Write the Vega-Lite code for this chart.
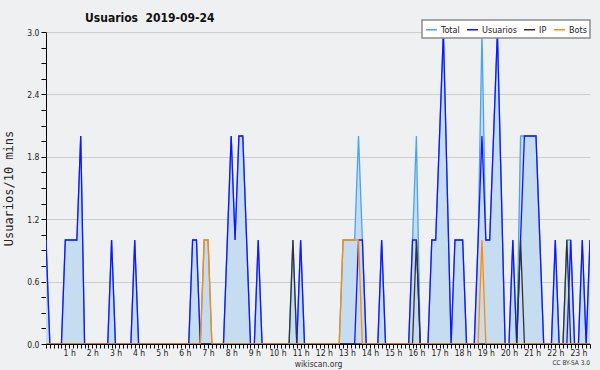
{
  "$schema": "https://vega.github.io/schema/vega-lite/v6.json",
  "width": 544,
  "height": 312,
  "autosize": {"type": "none"},
  "padding": {"left": 46, "top": 32, "right": 10, "bottom": 26},
  "background": "#eff0f1",
  "config": {
    "font": "DejaVu Sans Condensed, DejaVu Sans",
    "view": {"stroke": null, "fill": "#eff0f1"},
    "legend": {
      "orient": "none",
      "legendX": 376,
      "legendY": -12,
      "direction": "horizontal",
      "symbolType": "stroke",
      "symbolSize": 121,
      "symbolStrokeWidth": 1.5,
      "labelFont": "DejaVu Sans Condensed, DejaVu Sans",
      "labelFontSize": 9,
      "labelColor": "#222",
      "labelOffset": 3,
      "columnPadding": 4,
      "padding": 3,
      "fillColor": "white",
      "strokeColor": "#8c8c8c",
      "strokeWidth": 1.5
    }
  },
  "title": {
    "text": "Usuarios\u00a0 2019-09-24",
    "anchor": "start",
    "frame": "group",
    "dx": 39,
    "dy": 24,
    "offset": 9,
    "baseline": "alphabetic",
    "font": "DejaVu Sans Condensed, DejaVu Sans",
    "fontSize": 12,
    "fontWeight": "bold",
    "color": "#111"
  },
  "data": {
    "values": [
      {"m":0,"Total":1,"Usuarios":1,"IP":0,"Bots":0},
      {"m":10,"Total":0,"Usuarios":0,"IP":0,"Bots":0},
      {"m":20,"Total":0,"Usuarios":0,"IP":0,"Bots":0},
      {"m":30,"Total":0,"Usuarios":0,"IP":0,"Bots":0},
      {"m":40,"Total":0,"Usuarios":0,"IP":0,"Bots":0},
      {"m":50,"Total":1,"Usuarios":1,"IP":0,"Bots":0},
      {"m":60,"Total":1,"Usuarios":1,"IP":0,"Bots":0},
      {"m":70,"Total":1,"Usuarios":1,"IP":0,"Bots":0},
      {"m":80,"Total":1,"Usuarios":1,"IP":0,"Bots":0},
      {"m":90,"Total":2,"Usuarios":2,"IP":0,"Bots":0},
      {"m":100,"Total":0,"Usuarios":0,"IP":0,"Bots":0},
      {"m":110,"Total":0,"Usuarios":0,"IP":0,"Bots":0},
      {"m":120,"Total":0,"Usuarios":0,"IP":0,"Bots":0},
      {"m":130,"Total":0,"Usuarios":0,"IP":0,"Bots":0},
      {"m":140,"Total":0,"Usuarios":0,"IP":0,"Bots":0},
      {"m":150,"Total":0,"Usuarios":0,"IP":0,"Bots":0},
      {"m":160,"Total":0,"Usuarios":0,"IP":0,"Bots":0},
      {"m":170,"Total":1,"Usuarios":1,"IP":0,"Bots":0},
      {"m":180,"Total":0,"Usuarios":0,"IP":0,"Bots":0},
      {"m":190,"Total":0,"Usuarios":0,"IP":0,"Bots":0},
      {"m":200,"Total":0,"Usuarios":0,"IP":0,"Bots":0},
      {"m":210,"Total":0,"Usuarios":0,"IP":0,"Bots":0},
      {"m":220,"Total":0,"Usuarios":0,"IP":0,"Bots":0},
      {"m":230,"Total":1,"Usuarios":1,"IP":0,"Bots":0},
      {"m":240,"Total":0,"Usuarios":0,"IP":0,"Bots":0},
      {"m":250,"Total":0,"Usuarios":0,"IP":0,"Bots":0},
      {"m":260,"Total":0,"Usuarios":0,"IP":0,"Bots":0},
      {"m":270,"Total":0,"Usuarios":0,"IP":0,"Bots":0},
      {"m":280,"Total":0,"Usuarios":0,"IP":0,"Bots":0},
      {"m":290,"Total":0,"Usuarios":0,"IP":0,"Bots":0},
      {"m":300,"Total":0,"Usuarios":0,"IP":0,"Bots":0},
      {"m":310,"Total":0,"Usuarios":0,"IP":0,"Bots":0},
      {"m":320,"Total":0,"Usuarios":0,"IP":0,"Bots":0},
      {"m":330,"Total":0,"Usuarios":0,"IP":0,"Bots":0},
      {"m":340,"Total":0,"Usuarios":0,"IP":0,"Bots":0},
      {"m":350,"Total":0,"Usuarios":0,"IP":0,"Bots":0},
      {"m":360,"Total":0,"Usuarios":0,"IP":0,"Bots":0},
      {"m":370,"Total":0,"Usuarios":0,"IP":0,"Bots":0},
      {"m":380,"Total":1,"Usuarios":1,"IP":0,"Bots":0},
      {"m":390,"Total":1,"Usuarios":1,"IP":0,"Bots":0},
      {"m":400,"Total":0,"Usuarios":0,"IP":0,"Bots":0},
      {"m":410,"Total":1,"Usuarios":0,"IP":0,"Bots":1},
      {"m":420,"Total":1,"Usuarios":0,"IP":0,"Bots":1},
      {"m":430,"Total":0,"Usuarios":0,"IP":0,"Bots":0},
      {"m":440,"Total":0,"Usuarios":0,"IP":0,"Bots":0},
      {"m":450,"Total":0,"Usuarios":0,"IP":0,"Bots":0},
      {"m":460,"Total":0,"Usuarios":0,"IP":0,"Bots":0},
      {"m":470,"Total":1,"Usuarios":1,"IP":0,"Bots":0},
      {"m":480,"Total":2,"Usuarios":2,"IP":0,"Bots":0},
      {"m":490,"Total":1,"Usuarios":1,"IP":0,"Bots":0},
      {"m":500,"Total":2,"Usuarios":2,"IP":0,"Bots":0},
      {"m":510,"Total":2,"Usuarios":2,"IP":0,"Bots":0},
      {"m":520,"Total":1,"Usuarios":1,"IP":0,"Bots":0},
      {"m":530,"Total":0,"Usuarios":0,"IP":0,"Bots":0},
      {"m":540,"Total":0,"Usuarios":0,"IP":0,"Bots":0},
      {"m":550,"Total":1,"Usuarios":1,"IP":0,"Bots":0},
      {"m":560,"Total":0,"Usuarios":0,"IP":0,"Bots":0},
      {"m":570,"Total":0,"Usuarios":0,"IP":0,"Bots":0},
      {"m":580,"Total":0,"Usuarios":0,"IP":0,"Bots":0},
      {"m":590,"Total":0,"Usuarios":0,"IP":0,"Bots":0},
      {"m":600,"Total":0,"Usuarios":0,"IP":0,"Bots":0},
      {"m":610,"Total":0,"Usuarios":0,"IP":0,"Bots":0},
      {"m":620,"Total":0,"Usuarios":0,"IP":0,"Bots":0},
      {"m":630,"Total":0,"Usuarios":0,"IP":0,"Bots":0},
      {"m":640,"Total":1,"Usuarios":0,"IP":1,"Bots":0},
      {"m":650,"Total":0,"Usuarios":0,"IP":0,"Bots":0},
      {"m":660,"Total":1,"Usuarios":1,"IP":0,"Bots":0},
      {"m":670,"Total":0,"Usuarios":0,"IP":0,"Bots":0},
      {"m":680,"Total":0,"Usuarios":0,"IP":0,"Bots":0},
      {"m":690,"Total":0,"Usuarios":0,"IP":0,"Bots":0},
      {"m":700,"Total":0,"Usuarios":0,"IP":0,"Bots":0},
      {"m":710,"Total":0,"Usuarios":0,"IP":0,"Bots":0},
      {"m":720,"Total":0,"Usuarios":0,"IP":0,"Bots":0},
      {"m":730,"Total":0,"Usuarios":0,"IP":0,"Bots":0},
      {"m":740,"Total":0,"Usuarios":0,"IP":0,"Bots":0},
      {"m":750,"Total":0,"Usuarios":0,"IP":0,"Bots":0},
      {"m":760,"Total":0,"Usuarios":0,"IP":0,"Bots":0},
      {"m":770,"Total":1,"Usuarios":0,"IP":0,"Bots":1},
      {"m":780,"Total":1,"Usuarios":0,"IP":0,"Bots":1},
      {"m":790,"Total":1,"Usuarios":0,"IP":0,"Bots":1},
      {"m":800,"Total":1,"Usuarios":0,"IP":0,"Bots":1},
      {"m":810,"Total":2,"Usuarios":1,"IP":0,"Bots":1},
      {"m":820,"Total":1,"Usuarios":1,"IP":0,"Bots":0},
      {"m":830,"Total":0,"Usuarios":0,"IP":0,"Bots":0},
      {"m":840,"Total":0,"Usuarios":0,"IP":0,"Bots":0},
      {"m":850,"Total":0,"Usuarios":0,"IP":0,"Bots":0},
      {"m":860,"Total":0,"Usuarios":0,"IP":0,"Bots":0},
      {"m":870,"Total":1,"Usuarios":1,"IP":0,"Bots":0},
      {"m":880,"Total":0,"Usuarios":0,"IP":0,"Bots":0},
      {"m":890,"Total":0,"Usuarios":0,"IP":0,"Bots":0},
      {"m":900,"Total":0,"Usuarios":0,"IP":0,"Bots":0},
      {"m":910,"Total":0,"Usuarios":0,"IP":0,"Bots":0},
      {"m":920,"Total":0,"Usuarios":0,"IP":0,"Bots":0},
      {"m":930,"Total":0,"Usuarios":0,"IP":0,"Bots":0},
      {"m":940,"Total":0,"Usuarios":0,"IP":0,"Bots":0},
      {"m":950,"Total":1,"Usuarios":1,"IP":0,"Bots":0},
      {"m":960,"Total":2,"Usuarios":1,"IP":1,"Bots":0},
      {"m":970,"Total":0,"Usuarios":0,"IP":0,"Bots":0},
      {"m":980,"Total":0,"Usuarios":0,"IP":0,"Bots":0},
      {"m":990,"Total":0,"Usuarios":0,"IP":0,"Bots":0},
      {"m":1000,"Total":1,"Usuarios":1,"IP":0,"Bots":0},
      {"m":1010,"Total":1,"Usuarios":1,"IP":0,"Bots":0},
      {"m":1020,"Total":2,"Usuarios":2,"IP":0,"Bots":0},
      {"m":1030,"Total":3,"Usuarios":3,"IP":0,"Bots":0},
      {"m":1040,"Total":1.5,"Usuarios":1.5,"IP":0,"Bots":0},
      {"m":1050,"Total":0,"Usuarios":0,"IP":0,"Bots":0},
      {"m":1060,"Total":1,"Usuarios":1,"IP":0,"Bots":0},
      {"m":1070,"Total":1,"Usuarios":1,"IP":0,"Bots":0},
      {"m":1080,"Total":1,"Usuarios":1,"IP":0,"Bots":0},
      {"m":1090,"Total":0,"Usuarios":0,"IP":0,"Bots":0},
      {"m":1100,"Total":0,"Usuarios":0,"IP":0,"Bots":0},
      {"m":1110,"Total":0,"Usuarios":0,"IP":0,"Bots":0},
      {"m":1120,"Total":1,"Usuarios":1,"IP":0,"Bots":0},
      {"m":1130,"Total":3,"Usuarios":2,"IP":0,"Bots":1},
      {"m":1140,"Total":1,"Usuarios":1,"IP":0,"Bots":0},
      {"m":1150,"Total":1,"Usuarios":1,"IP":0,"Bots":0},
      {"m":1160,"Total":2,"Usuarios":2,"IP":0,"Bots":0},
      {"m":1170,"Total":3,"Usuarios":3,"IP":0,"Bots":0},
      {"m":1180,"Total":1.5,"Usuarios":1.5,"IP":0,"Bots":0},
      {"m":1190,"Total":0,"Usuarios":0,"IP":0,"Bots":0},
      {"m":1200,"Total":0,"Usuarios":0,"IP":0,"Bots":0},
      {"m":1210,"Total":1,"Usuarios":1,"IP":0,"Bots":0},
      {"m":1220,"Total":0,"Usuarios":0,"IP":0,"Bots":0},
      {"m":1230,"Total":2,"Usuarios":1,"IP":1,"Bots":0},
      {"m":1240,"Total":2,"Usuarios":2,"IP":0,"Bots":0},
      {"m":1250,"Total":2,"Usuarios":2,"IP":0,"Bots":0},
      {"m":1260,"Total":2,"Usuarios":2,"IP":0,"Bots":0},
      {"m":1270,"Total":2,"Usuarios":2,"IP":0,"Bots":0},
      {"m":1280,"Total":1,"Usuarios":1,"IP":0,"Bots":0},
      {"m":1290,"Total":0,"Usuarios":0,"IP":0,"Bots":0},
      {"m":1300,"Total":0,"Usuarios":0,"IP":0,"Bots":0},
      {"m":1310,"Total":0,"Usuarios":0,"IP":0,"Bots":0},
      {"m":1320,"Total":1,"Usuarios":1,"IP":0,"Bots":0},
      {"m":1330,"Total":0,"Usuarios":0,"IP":0,"Bots":0},
      {"m":1340,"Total":0,"Usuarios":0,"IP":0,"Bots":0},
      {"m":1350,"Total":1,"Usuarios":0,"IP":1,"Bots":0},
      {"m":1360,"Total":1,"Usuarios":1,"IP":0,"Bots":0},
      {"m":1370,"Total":0,"Usuarios":0,"IP":0,"Bots":0},
      {"m":1380,"Total":0,"Usuarios":0,"IP":0,"Bots":0},
      {"m":1390,"Total":1,"Usuarios":1,"IP":0,"Bots":0},
      {"m":1400,"Total":0,"Usuarios":0,"IP":0,"Bots":0},
      {"m":1410,"Total":1,"Usuarios":1,"IP":0,"Bots":0}
    ]
  },
  "layer": [
    {
      "mark": {"type": "area", "color": "#c6dcf1", "clip": true},
      "encoding": {
        "x": {
          "field": "m",
          "type": "quantitative",
          "scale": {"domain": [0, 1410], "nice": false, "zero": false},
          "axis": {
            "title": "wikiscan.org",
            "titleFontSize": 8.5,
            "titleFontWeight": "normal",
            "titleColor": "#333",
            "titlePadding": 3,
            "tickCount": 500,
            "values": [0,10,20,30,40,50,60,70,80,90,100,110,120,130,140,150,160,170,180,190,200,210,220,230,240,250,260,270,280,290,300,310,320,330,340,350,360,370,380,390,400,410,420,430,440,450,460,470,480,490,500,510,520,530,540,550,560,570,580,590,600,610,620,630,640,650,660,670,680,690,700,710,720,730,740,750,760,770,780,790,800,810,820,830,840,850,860,870,880,890,900,910,920,930,940,950,960,970,980,990,1000,1010,1020,1030,1040,1050,1060,1070,1080,1090,1100,1110,1120,1130,1140,1150,1160,1170,1180,1190,1200,1210,1220,1230,1240,1250,1260,1270,1280,1290,1300,1310,1320,1330,1340,1350,1360,1370,1380,1390,1400,1410],
            "labelExpr": "datum.value % 60 == 0 && datum.value > 0 ? (datum.value / 60) + ' h' : ''",
            "labelOverlap": false,
            "labelFlush": false,
            "labelFontSize": 8.5,
            "labelColor": "#222",
            "labelPadding": 0,
            "labelDx": -3,
            "tickSize": 4,
            "tickColor": "#000",
            "domainColor": "#000",
            "grid": false
          }
        },
        "y": {
          "field": "Total",
          "type": "quantitative",
          "scale": {"domain": [0, 3], "nice": false},
          "axis": {
            "title": "Usuarios/10 mins",
            "titleFont": "DejaVu Sans Mono",
            "titleFontSize": 12,
            "titleFontWeight": "normal",
            "titleColor": "#222",
            "titlePadding": 11,
            "tickCount": 500,
            "values": [0,0.15,0.3,0.45,0.6,0.75,0.9,1.05,1.2,1.35,1.5,1.65,1.8,1.95,2.1,2.25,2.4,2.55,2.7,2.85,3.0],
            "labelExpr": "abs(datum.value / 0.6 - round(datum.value / 0.6)) < 0.01 ? format(datum.value, '.1f') : ''",
            "labelOverlap": false,
            "labelFlush": false,
            "labelFontSize": 8.5,
            "labelColor": "#222",
            "labelPadding": 2,
            "tickSize": 5,
            "tickColor": "#000",
            "domainColor": "#000",
            "grid": true,
            "gridColor": "#cccccc",
            "gridOpacity": {"condition": {"test": "abs(datum.value / 0.6 - round(datum.value / 0.6)) < 0.01", "value": 1}, "value": 0}
          }
        }
      }
    },
    {
      "transform": [
        {"fold": ["Total", "Usuarios", "IP", "Bots"], "as": ["serie", "v"]}
      ],
      "mark": {"type": "line", "strokeWidth": 1.3, "clip": true},
      "encoding": {
        "x": {"field": "m", "type": "quantitative"},
        "y": {"field": "v", "type": "quantitative"},
        "color": {
          "field": "serie",
          "type": "nominal",
          "scale": {
            "domain": ["Total", "Usuarios", "IP", "Bots"],
            "range": ["#4aa3f0", "#1414ff", "#333333", "#ff8c00"]
          },
          "legend": {"title": null}
        }
      }
    },
    {
      "data": {"values": [{"t": "CC BY-SA 3.0"}]},
      "mark": {"type": "text", "align": "right", "baseline": "middle", "dy": 19, "fontSize": 6.5, "color": "#333"},
      "encoding": {
        "x": {"datum": 1410},
        "y": {"datum": 0},
        "text": {"field": "t"}
      }
    }
  ]
}
